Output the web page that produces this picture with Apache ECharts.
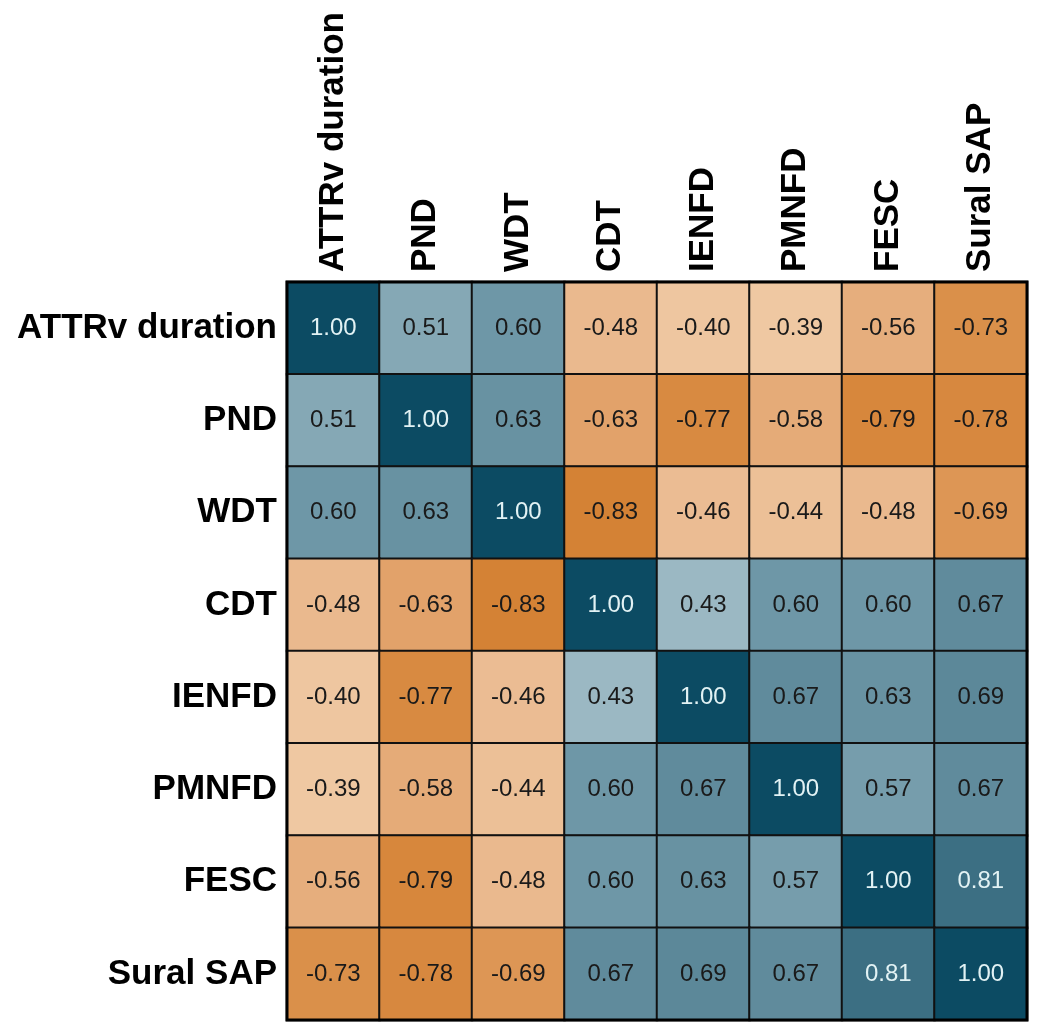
<!DOCTYPE html>
<html>
<head>
<meta charset="utf-8">
<script src="https://cdn.jsdelivr.net/npm/echarts@6/dist/echarts.min.js"></script>
<style>
html,body{margin:0;padding:0;background:#fff;}
#chart{width:1060px;height:1023px;}
</style>
</head>
<body>
<div id="chart"></div>
<script>
const variables = ['ATTRv duration','PND','WDT','CDT','IENFD','PMNFD','FESC','Sural SAP'];
const rowATTRv = [1.00, 0.51, 0.60, -0.48, -0.40, -0.39, -0.56, -0.73];
const rowPND   = [0.51, 1.00, 0.63, -0.63, -0.77, -0.58, -0.79, -0.78];
const rowWDT   = [0.60, 0.63, 1.00, -0.83, -0.46, -0.44, -0.48, -0.69];
const rowCDT   = [-0.48, -0.63, -0.83, 1.00, 0.43, 0.60, 0.60, 0.67];
const rowIENFD = [-0.40, -0.77, -0.46, 0.43, 1.00, 0.67, 0.63, 0.69];
const rowPMNFD = [-0.39, -0.58, -0.44, 0.60, 0.67, 1.00, 0.57, 0.67];
const rowFESC  = [-0.56, -0.79, -0.48, 0.60, 0.63, 0.57, 1.00, 0.81];
const rowSural = [-0.73, -0.78, -0.69, 0.67, 0.69, 0.67, 0.81, 1.00];
const rows = [rowATTRv,rowPND,rowWDT,rowCDT,rowIENFD,rowPMNFD,rowFESC,rowSural];

const data = [];
rows.forEach((r, yi) => r.forEach((v, xi) => data.push([xi, yi, v])));

const colorScale = [
  '#c46f1e','#ce7a2a','#d6853a','#dc9451','#e4a874','#e9b68a','#eec6a0','#f3d5b8','#f8e3ce','#fcf1e6',
  '#ffffff',
  '#eaf1f4','#d2e1e7','#b9d0d8','#a3bec8','#88aab7','#6e97a7','#5a8697','#3e7185','#265e74','#0c4b63'
];

const font = '"Liberation Sans", Arial, sans-serif';
const chart = echarts.init(document.getElementById('chart'));
chart.setOption({
  animation: false,
  backgroundColor: '#ffffff',
  grid: {left: 287, top: 282, width: 740, height: 738, show: true, borderColor: '#000', borderWidth: 3, backgroundColor: 'transparent', z: 10},
  xAxis: {
    type: 'category', data: variables, position: 'top',
    axisLine: {show: false}, axisTick: {show: false}, splitLine: {show: false},
    axisLabel: {rotate: -90, margin: 10, fontSize: 35, fontWeight: 'bold', color: '#000', fontFamily: font, interval: 0}
  },
  yAxis: {
    type: 'category', data: variables, inverse: true,
    axisLine: {show: false}, axisTick: {show: false}, splitLine: {show: false},
    axisLabel: {margin: 10, fontSize: 35, fontWeight: 'bold', color: '#000', fontFamily: font, interval: 0}
  },
  visualMap: {
    show: false, type: 'continuous', min: -1, max: 1, dimension: 2,
    inRange: {color: colorScale}
  },
  series: [{
    type: 'heatmap',
    data: data.map(d => ({value: d, label: {color: d[2] > 0.75 ? '#e2f2f4' : '#1a1a1a'}})),
    itemStyle: {borderColor: '#111', borderWidth: 2},
    label: {
      show: true, fontSize: 24, fontFamily: font,
      formatter: p => p.value[2].toFixed(2)
    },
    emphasis: {disabled: true}
  }]
});
</script>
</body>
</html>
